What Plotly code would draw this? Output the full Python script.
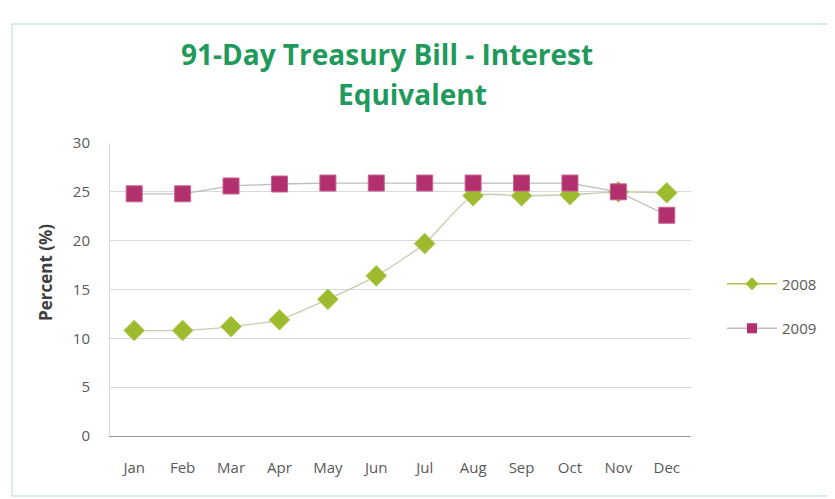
import plotly.graph_objects as go

months = ["Jan", "Feb", "Mar", "Apr", "May", "Jun", "Jul", "Aug", "Sep", "Oct", "Nov", "Dec"]
rates_2008 = [10.8, 10.8, 11.2, 11.9, 14.0, 16.4, 19.7, 24.6, 24.6, 24.7, 25.0, 24.9]
rates_2009 = [24.8, 24.8, 25.6, 25.8, 25.9, 25.9, 25.9, 25.9, 25.9, 25.9, 25.0, 22.6]
y_ticks = [0, 5, 10, 15, 20, 25, 30]

# page body has an 8px margin; work in figure-local pixel coordinates
OFF = 8
W, H = 835 - OFF, 499 - OFF
L, T = 110 - OFF, 143 - OFF
R = W - (691 - OFF)
B = H - (436 - OFF)
pw, ph = W - L - R, H - T - B

def px(x):
    return (x - OFF - L) / pw

def py(y):
    return (H - B - (y - OFF)) / ph

GREEN = "#9dbb2f"
MAGENTA = "#b3306e"

fig = go.Figure()
fig.add_trace(go.Scatter(
    x=months, y=rates_2008, name="2008", mode="lines+markers",
    line=dict(color="#c5ccb0", width=1.3, shape="spline", smoothing=0.6),
    marker=dict(symbol="diamond", size=16, color=GREEN, line=dict(color="#b8cf66", width=1)),
    showlegend=False,
))
fig.add_trace(go.Scatter(
    x=months, y=rates_2009, name="2009", mode="lines+markers",
    line=dict(color="#bdbdbd", width=1.3),
    marker=dict(symbol="square", size=16, color=MAGENTA, line=dict(color="#c8638f", width=1)),
    showlegend=False,
))
# legend entries (smaller markers, as in the reference legend)
fig.add_trace(go.Scatter(
    x=[None], y=[None], name="2008", mode="lines+markers",
    line=dict(color="#a9c24a", width=1.5),
    marker=dict(symbol="diamond", size=10, color=GREEN),
    legendgroup="a",
))
fig.add_trace(go.Scatter(
    x=[None], y=[None], name="2009", mode="lines+markers",
    line=dict(color="#bdbdbd", width=1.3),
    marker=dict(symbol="square", size=10, color=MAGENTA),
    legendgroup="b",
))

title_font = dict(size=28, color="#1f9a5c", family="Open Sans, sans-serif")

fig.update_layout(
    width=W, height=H,
    margin=dict(l=L, r=R, t=T, b=B),
    paper_bgcolor="white", plot_bgcolor="white",
    font=dict(family="Open Sans, sans-serif", color="#595959", size=15),
    showlegend=True,
    legend=dict(x=px(722), y=py(306), yanchor="middle", xanchor="left",
                font=dict(size=15, color="#595959"), tracegroupgap=22,
                traceorder="grouped", itemwidth=50,
                bgcolor="rgba(0,0,0,0)"),
    xaxis=dict(type="category", range=[-0.5, 11.5], showgrid=False,
               showline=True, linecolor="#9a9a9a", linewidth=1.2, ticks="",
               ticklabelstandoff=18,
               tickfont=dict(size=15, color="#595959"), fixedrange=True),
    yaxis=dict(range=[0, 30], tickvals=y_ticks, showgrid=True, gridcolor="#d9d9d9",
               gridwidth=1, showline=True, linecolor="#d9d9d9", zeroline=False,
               ticks="", ticklabelstandoff=16,
               tickfont=dict(size=15, color="#595959")),
    shapes=[dict(type="rect", xref="paper", yref="paper",
                 x0=px(12), x1=px(830), y0=py(496), y1=py(24),
                 line=dict(color="#cfe6e6", width=1.5), fillcolor="rgba(0,0,0,0)", layer="below")],
    annotations=[
        dict(text="<b>91-Day Treasury Bill - Interest</b>", xref="paper", yref="paper",
             x=px(387), y=py(54), showarrow=False, xanchor="center", yanchor="middle",
             font=title_font),
        dict(text="<b>Equivalent</b>", xref="paper", yref="paper",
             x=px(412), y=py(94), showarrow=False, xanchor="center", yanchor="middle",
             font=title_font),
        dict(text="<b>Percent (%)</b>", xref="paper", yref="paper",
             x=px(45), y=py(273), showarrow=False, xanchor="center", yanchor="middle",
             textangle=-90, font=dict(size=17, color="#404040", family="Open Sans, sans-serif")),
    ],
)

fig.write_html("out.html")
